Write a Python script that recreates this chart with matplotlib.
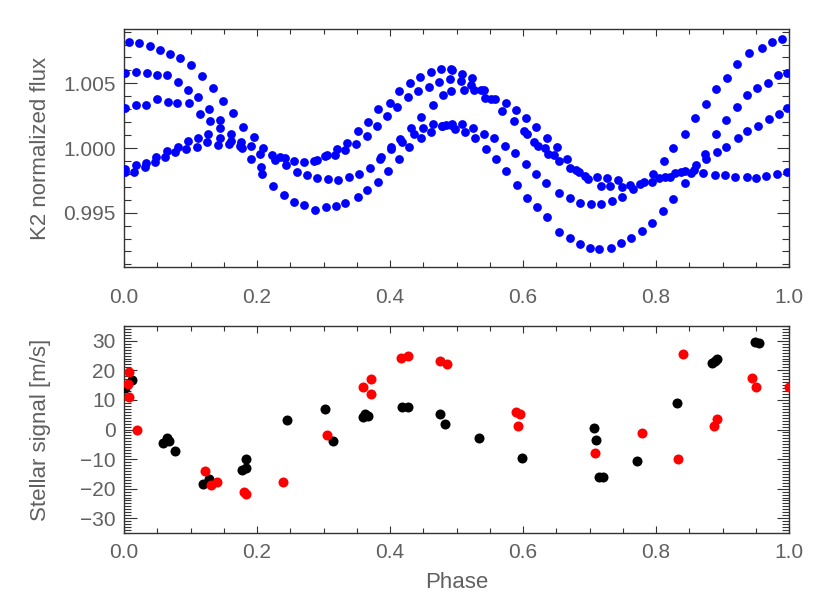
import matplotlib
matplotlib.use("Agg")
import matplotlib.pyplot as plt
from matplotlib.ticker import MultipleLocator, FixedLocator

plt.rcParams['font.family'] = ['Liberation Sans', 'DejaVu Sans']

# ---- K2 light curve (phase-folded) ----
k2_phase = [
    0.0070, 0.0226, 0.0386, 0.0541, 0.0697, 0.0847, 0.1013, 0.1168, 0.1333, 0.1484, 0.1639,
    0.001, 0.0175, 0.0346, 0.0496, 0.0647, 0.0812, 0.0967, 0.1118, 0.1283, 0.1444,
    0.0015, 0.018, 0.0336, 0.0491, 0.0657, 0.0797, 0.0977, 0.1138, 0.1298, 0.1449,
    0.001, 0.001, 0.015, 0.0175, 0.0311, 0.0336, 0.0471, 0.0486, 0.0612, 0.0647, 0.0772, 0.0812,
    0.0937, 0.0962, 0.1093, 0.1113, 0.1253, 0.1263, 0.1414, 0.1449, 0.1574, 0.1604, 0.1604,
    0.1794, 0.1955, 0.1754, 0.1739, 0.1774, 0.1905, 0.1915, 0.2040, 0.2090, 0.2065, 0.2080,
    0.2226, 0.2236, 0.2276, 0.2351, 0.2416, 0.2431, 0.2401, 0.2556, 0.2602, 0.2556, 0.2707,
    0.2752, 0.2712, 0.2857, 0.2902, 0.2907, 0.2872, 0.3028, 0.3058, 0.3068, 0.3033, 0.3168,
    0.3203, 0.3223, 0.3183,
    0.3328, 0.3358, 0.3484, 0.3519, 0.3649, 0.3669, 0.3805, 0.3825, 0.3960, 0.3995, 0.4110,
    0.4140, 0.4271, 0.4306, 0.4426, 0.4446, 0.4582, 0.4622, 0.4742, 0.4762, 0.4797, 0.4642,
    0.4471, 0.4897, 0.4912, 0.4922,
    0.3328, 0.3514, 0.3659, 0.3820, 0.3975, 0.4135, 0.4291, 0.4466, 0.4612, 0.4777, 0.4922,
    0.3383, 0.3539, 0.3699, 0.3855, 0.3870, 0.4010, 0.4020, 0.4155, 0.4185, 0.4321, 0.4361,
    0.4501, 0.4652, 0.4787, 0.4842,
    0.4932, 0.5083, 0.5063, 0.5108, 0.5238, 0.5213, 0.5263, 0.5363, 0.5414, 0.5424, 0.5524,
    0.5584, 0.5739, 0.5689, 0.5890, 0.5865, 0.6045, 0.6015, 0.6055, 0.6195, 0.6165, 0.6226,
    0.6356, 0.6326, 0.6376, 0.6466, 0.6516, 0.6536,
    0.4932, 0.4972, 0.5088, 0.5123, 0.5243, 0.5283, 0.5408, 0.5439, 0.5569, 0.5594, 0.5724,
    0.5749, 0.5885, 0.5905, 0.6045, 0.6060, 0.6195, 0.6216, 0.6346, 0.6366, 0.6546, 0.6541,
    0.6667, 0.6702, 0.6802, 0.6837, 0.6937, 0.6977, 0.7118, 0.7168, 0.7268, 0.7313, 0.7429,
    0.7494, 0.7604, 0.7654, 0.7754, 0.7820, 0.7945, 0.7955, 0.8040, 0.8130, 0.8205, 0.8120,
    0.8256,
    0.6702, 0.6862, 0.7018, 0.7178, 0.7338, 0.7494,
    0.6702, 0.6852, 0.7008, 0.7143, 0.7318, 0.7479, 0.7629, 0.7789, 0.7945, 0.8105, 0.8256,
    0.8431, 0.8591, 0.8747, 0.8907, 0.9063, 0.9223, 0.9398, 0.9594, 0.9744, 0.9900,
    0.8897, 0.9058, 0.9223, 0.9373, 0.9524, 0.9684, 0.9835, 0.9975,
    0.8742, 0.8757, 0.8922, 0.9058, 0.9233, 0.9373, 0.9534, 0.9694, 0.9850, 0.9975,
    0.8281, 0.8371, 0.8441, 0.8521, 0.8571, 0.8596, 0.8707, 0.8882, 0.9033, 0.9193, 0.9363,
    0.9509, 0.9659, 0.9825, 0.9975, 0.8431,
]
k2_flux = [
    1.00823, 1.00815, 1.00789, 1.00761, 1.00725, 1.00699, 1.00640, 1.00557, 1.00462, 1.00364, 1.00268,
    1.00583, 1.00591, 1.00580, 1.00567, 1.00565, 1.00511, 1.00449, 1.00392, 1.00304, 1.00214,
    1.00309, 1.00333, 1.00330, 1.00379, 1.00353, 1.00345, 1.00351, 1.00265, 1.00206, 1.00152,
    0.99835, 0.99817, 0.99811, 0.99866, 0.99850, 0.99886, 0.99894, 0.99933, 0.99927, 0.99977, 0.99966, 1.00008,
    0.99995, 1.00057, 1.00010, 1.00080, 1.00046, 1.00106, 1.00023, 1.00080, 1.00031, 1.00111, 1.00054,
    1.00162, 1.00085, 1.00049, 1.00013, 0.99997, 1.00013, 0.99912, 0.99956, 0.99997, 0.99853, 0.99796,
    0.99946, 0.99708, 0.99904, 0.99930, 0.99920, 0.99871, 0.99633, 0.99899, 0.99817, 0.99584, 0.99894,
    0.99791, 0.99556, 0.99899, 0.99904, 0.99765, 0.99517, 0.99938, 0.99948, 0.99757, 0.99546, 0.99946,
    0.99995, 0.99755, 0.99551,
    0.99987, 1.00041, 1.00028, 1.00131, 1.00093, 1.00201, 1.00170, 1.00299, 1.00247, 1.00351, 1.00317,
    1.00441, 1.00392, 1.00505, 1.00438, 1.00549, 1.00472, 1.00591, 1.00513, 1.00614, 1.00410, 1.00333,
    1.00242, 1.00531, 1.00609, 1.00441,
    0.99571, 0.99620, 0.99672, 0.99737, 0.99824, 0.99912, 1.00008, 1.00080, 1.00126, 1.00167, 1.00178,
    0.99778, 0.99801, 0.99848, 0.99912, 0.99930, 0.99989, 1.00005, 1.00067, 1.00049, 1.00157, 1.00106,
    1.00157, 1.00188, 1.00167, 1.00178,
    1.00606, 1.00570, 1.00518, 1.00449, 1.00539, 1.00487, 1.00446, 1.00446, 1.00446, 1.00389, 1.00376,
    1.00376, 1.00348, 1.00286, 1.00291, 1.00209, 1.00229, 1.00129, 1.00106, 1.00165, 1.00049, 1.00015,
    1.00080, 0.99997, 0.99956, 0.99946, 1.00008, 0.99899,
    1.00183, 1.00144, 1.00183, 1.00124, 1.00157, 1.00080, 1.00111, 0.99995, 1.00075, 0.99915, 1.00018,
    0.99822, 0.99961, 0.99713, 0.99878, 0.99615, 0.99801, 0.99546, 0.99726, 0.99466, 0.99654, 0.99352,
    0.99917, 0.99848, 0.99827, 0.99817, 0.99783, 0.99757, 0.99778, 0.99703, 0.99765, 0.99708, 0.99749,
    0.99698, 0.99713, 0.99682, 0.99724, 0.99737, 0.99737, 0.99796, 0.99765, 0.99775, 0.99775, 0.99899,
    1.00002,
    0.99610, 0.99577, 0.99564, 0.99564, 0.99590, 0.99620,
    0.99306, 0.99254, 0.99228, 0.99218, 0.99228, 0.99262, 0.99306, 0.99362, 0.99419, 0.99512, 0.99602,
    1.00106, 1.00229, 1.00343, 1.00459, 1.00544, 1.00647, 1.00732, 1.00776, 1.00823, 1.00841,
    1.00106, 1.00214, 1.00317, 1.00407, 1.00467, 1.00505, 1.00565, 1.00583,
    0.99956, 0.99917, 0.99969, 1.00010, 1.00080, 1.00131, 1.00170, 1.00222, 1.00265, 1.00307,
    0.99804, 0.99814, 0.99822, 0.99809, 0.99827, 0.99868, 0.99804, 0.99788, 0.99788, 0.99775, 0.99775,
    0.99770, 0.99783, 0.99801, 0.99817, 0.99731,
]

# ---- Stellar signal (RV) ----
rv_black_phase = [0.0015, 0.0125, 0.059, 0.065, 0.067, 0.077, 0.119, 0.128, 0.178, 0.183, 0.183,
                  0.2446, 0.302, 0.314, 0.360, 0.363, 0.367, 0.4186, 0.4276, 0.4747, 0.4827,
                  0.5333, 0.599, 0.7063, 0.7098, 0.715, 0.721, 0.771, 0.832, 0.884, 0.888,
                  0.891, 0.949, 0.955]
rv_black = [14.0, 16.9, -4.5, -2.8, -3.8, -7.3, -18.5, -16.6, -13.7, -13.1, -10.1,
            3.1, 7.0, -3.8, 4.3, 5.2, 4.7, 7.5, 7.5, 5.3, 2.0,
            -3.0, -9.7, 0.4, -3.7, -16.2, -16.1, -10.5, 8.9, 22.4, 23.3,
            24.0, 29.6, 29.3]
rv_red_phase = [0.007, 0.006, 0.008, 0.019, 0.122, 0.131, 0.140, 0.180, 0.184, 0.2396,
                0.305, 0.360, 0.371, 0.371, 0.417, 0.4276, 0.4747, 0.4862, 0.589, 0.595,
                0.592, 0.7078, 0.779, 0.8326, 0.841, 0.8867, 0.892, 0.944, 0.951, 0.9995]
rv_red = [19.3, 15.4, 10.9, 0.0, -14.1, -18.7, -17.7, -21.0, -21.8, -17.8,
          -2.0, 14.4, 17.1, 12.1, 24.2, 24.9, 23.3, 22.2, 6.0, 5.1,
          1.3, -8.0, -1.3, -10.0, 25.5, 1.1, 3.5, 17.4, 14.5, 14.5]

TXT = '#606060'
AXC = '#333333'
W, H = 830, 593
fig = plt.figure(figsize=(W / 100, H / 100), dpi=100)

L, R = 124 / W, 789 / W
ax1 = fig.add_axes([L, 1 - 267 / H, R - L, (267 - 29) / H])
ax2 = fig.add_axes([L, 1 - 533 / H, R - L, (533 - 326) / H])

ax1.scatter(k2_phase, k2_flux, s=40, c='#0000ff', linewidths=0, zorder=3)
ax2.scatter(rv_black_phase, rv_black, s=52, c='black', linewidths=0, zorder=3)
ax2.scatter(rv_red_phase, rv_red, s=52, c='#ff0000', linewidths=0, zorder=4)

ax1.set_xlim(0, 1)
ax1.set_ylim(0.9908, 1.0092)
ax1.yaxis.set_major_locator(FixedLocator([0.995, 1.000, 1.005]))
ax1.set_yticklabels(['0.995', '1.000', '1.005'])
ax1.yaxis.set_minor_locator(MultipleLocator(0.001))

ax2.set_xlim(0, 1)
ax2.set_ylim(-35, 35)
ax2.yaxis.set_major_locator(MultipleLocator(10))
ax2.yaxis.set_minor_locator(MultipleLocator(1))

for ax in (ax1, ax2):
    ax.xaxis.set_major_locator(MultipleLocator(0.2))
    ax.xaxis.set_minor_locator(MultipleLocator(0.05))
    ax.set_xticks([0, 0.2, 0.4, 0.6, 0.8, 1.0])
    ax.set_xticklabels(['0.0', '0.2', '0.4', '0.6', '0.8', '1.0'])
    for s in ax.spines.values():
        s.set_color(AXC)
        s.set_linewidth(1.0)
    ax.tick_params(which='both', direction='in', top=True, right=True,
                   colors=AXC, labelcolor=TXT, labelsize=15)
    ax.tick_params(axis='y', which='major', length=9, width=0.8, pad=6)
    ax.tick_params(axis='y', which='minor', length=5, width=0.8)
    ax.tick_params(axis='x', which='major', length=5, width=0.8)
    ax.tick_params(axis='x', which='minor', length=3.5, width=0.8)

ax1.tick_params(axis='x', which='major', pad=15)
ax2.tick_params(axis='x', which='major', pad=7)

ax1.set_ylabel('K2 normalized flux', fontsize=16, color=TXT)
ax1.yaxis.set_label_coords(-0.11, 0.5)
ax2.set_ylabel('Stellar signal [m/s]', fontsize=16, color=TXT)
ax2.yaxis.set_label_coords(-0.11, 0.5)
ax2.set_xlabel('Phase', fontsize=16, color=TXT)
ax2.xaxis.set_label_coords(0.5, -0.19)

fig.savefig('out.png', dpi=100)
